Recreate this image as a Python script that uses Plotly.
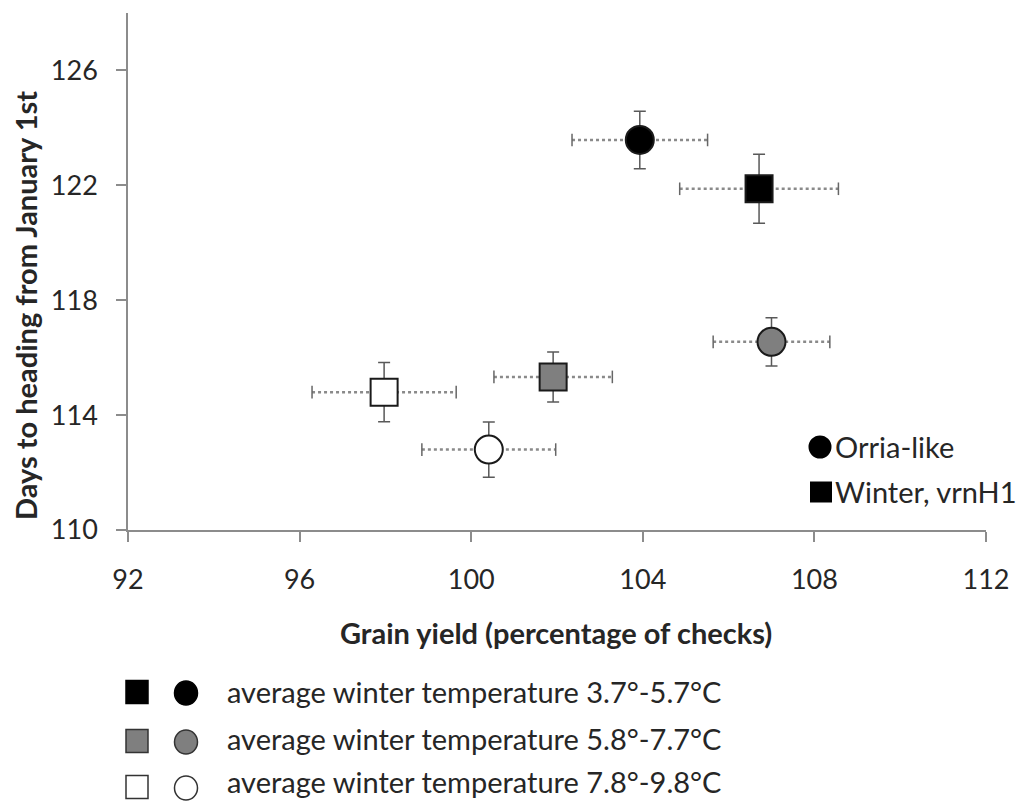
import plotly.graph_objects as go

# Mean grain yield (% of checks) and days to heading, with their standard errors
groups = ["3.7-5.7", "5.8-7.7", "7.8-9.8"]
fills = ["#000000", "#7f7f7f", "#ffffff"]

orria_yield = [103.93, 107.0, 100.41]
orria_yield_err = [1.58, 1.36, 1.56]
orria_days = [123.58, 116.55, 112.8]
orria_days_err = [1.0, 0.84, 0.96]

winter_yield = [106.71, 101.91, 97.97]
winter_yield_err = [1.85, 1.38, 1.68]
winter_days = [121.88, 115.33, 114.8]
winter_days_err = [1.2, 0.87, 1.03]

x_ticks = [92, 96, 100, 104, 108, 112]
y_ticks = [110, 114, 118, 122, 126]

legend_rows = [
    "average winter temperature 3.7°-5.7°C",
    "average winter temperature 5.8°-7.7°C",
    "average winter temperature 7.8°-9.8°C",
]

FONT = "Lato"
TEXT_SIZE = 29
W, H = 1022, 801
ML, MR, MT, MB = 128, 36, 13, 271
PW, PH = W - ML - MR, H - MT - MB


def px(xp):
    return (xp - ML) / PW


def py(yp):
    return (H - MB - yp) / PH


fig = go.Figure()

# dotted horizontal (yield) error bars with small end caps
for xs, es, ys in [(orria_yield, orria_yield_err, orria_days),
                   (winter_yield, winter_yield_err, winter_days)]:
    for x, e, y in zip(xs, es, ys):
        fig.add_trace(go.Scatter(
            x=[x - e, x + e], y=[y, y], mode="lines+markers",
            line=dict(color="#8a8a8a", width=2.5, dash="dot"),
            marker=dict(symbol="line-ns", size=9,
                        line=dict(color="#666666", width=1.5)),
            showlegend=False, hoverinfo="skip"))

# points with vertical (heading) error bars
fig.add_trace(go.Scatter(
    x=orria_yield, y=orria_days, mode="markers", name="Orria-like",
    error_y=dict(type="data", array=orria_days_err, color="#595959",
                 thickness=1.5, width=6),
    marker=dict(symbol="circle", size=28, color=fills,
                line=dict(color="#1a1a1a", width=2)),
    showlegend=False))
fig.add_trace(go.Scatter(
    x=winter_yield, y=winter_days, mode="markers", name="Winter, vrnH1",
    error_y=dict(type="data", array=winter_days_err, color="#595959",
                 thickness=1.5, width=6),
    marker=dict(symbol="square", size=27, color=fills,
                line=dict(color="#1a1a1a", width=2)),
    showlegend=False))

shapes = []
annotations = []


def glyph(kind, cx, cy, w, h, fill, line_color, line_width):
    shapes.append(dict(
        type="circle" if kind == "circle" else "rect",
        xref="paper", yref="paper",
        x0=px(cx - w / 2), x1=px(cx + w / 2),
        y0=py(cy + h / 2), y1=py(cy - h / 2),
        fillcolor=fill, line=dict(color=line_color, width=line_width),
        layer="above"))


def label(text, x, y, size, bold=False, angle=0, anchor="left"):
    annotations.append(dict(
        text=f"<b>{text}</b>" if bold else text,
        xref="paper", yref="paper", x=px(x), y=py(y),
        xanchor=anchor, yanchor="middle", showarrow=False,
        textangle=angle, font=dict(family=FONT, size=size, color="#262626")))


# legend inside the plot (marker shapes)
glyph("circle", 820, 447, 23, 23, "#000000", "#000000", 0)
label("Orria-like", 833, 446, TEXT_SIZE)
glyph("rect", 821, 492, 22, 21, "#000000", "#000000", 0)
label("Winter, vrnH1", 833, 491, TEXT_SIZE)

# legend below the chart (temperature shading)
row_y = [692, 741, 787]
text_y = [691, 738, 781]
for yy, ty, fill, text in zip(row_y, text_y, fills, legend_rows):
    edge = "#000000" if fill == "#000000" else "#333333"
    glyph("rect", 137, yy, 22, 23, fill, edge, 1.5)
    glyph("circle", 186, yy + 1, 23, 24, fill, edge, 1.5)
    label(text, 225, ty, TEXT_SIZE)

# axis titles
label("Grain yield (percentage of checks)", 556, 632, TEXT_SIZE, bold=True,
      anchor="center")
label("Days to heading from January 1st", 25, 306, TEXT_SIZE, bold=True,
      angle=-90, anchor="center")

axis_common = dict(
    showgrid=False, zeroline=False, showline=True, linecolor="#8c8c8c",
    linewidth=1.5, ticks="outside", ticklen=10, tickcolor="#8c8c8c",
    tickwidth=1.5, tickfont=dict(family=FONT, size=27, color="#262626"),
    mirror=False,
)

fig.update_layout(
    width=W, height=H,
    margin=dict(l=ML, r=MR, t=MT, b=MB),
    paper_bgcolor="white", plot_bgcolor="white",
    xaxis=dict(range=[92, 112], tickvals=x_ticks, ticklabelstandoff=15,
               **axis_common),
    yaxis=dict(range=[110, 128], tickvals=y_ticks, ticklabelstandoff=13,
               **axis_common),
    shapes=shapes, annotations=annotations,
    showlegend=False,
)

fig.write_html("out.html")
